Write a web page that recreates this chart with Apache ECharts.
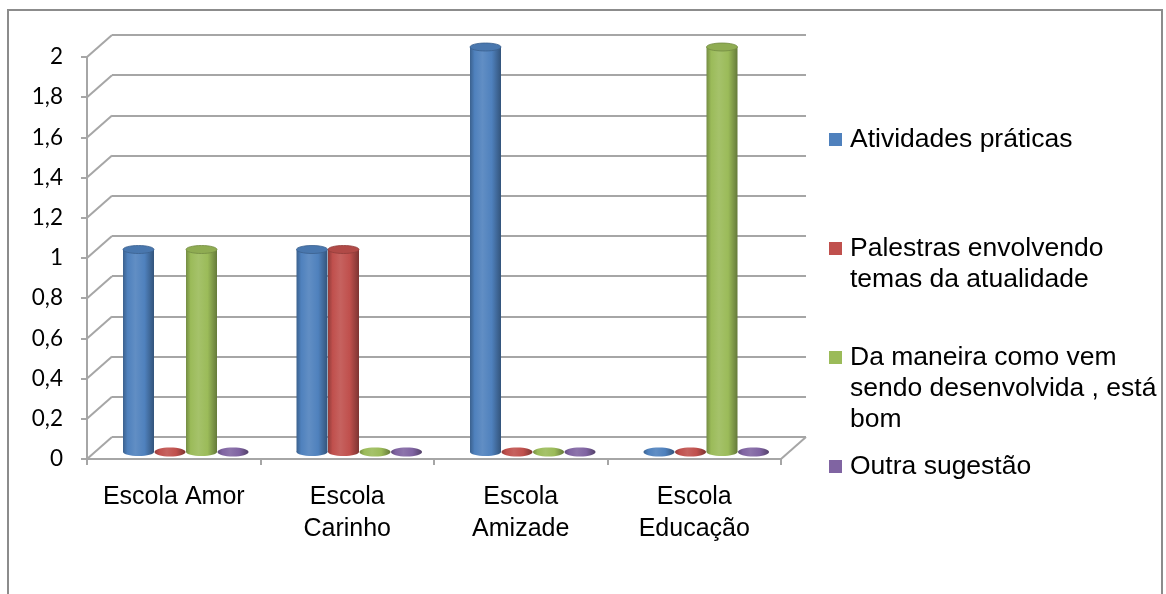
<!DOCTYPE html>
<html>
<head>
<meta charset="utf-8">
<title>Sugestões por escola</title>
<script src="https://cdn.jsdelivr.net/npm/echarts@6.0.0/dist/echarts.min.js"></script>
<style>
  html, body { margin: 0; padding: 0; background: #fff; }
  #chart { width: 1166px; height: 594px; }
</style>
</head>
<body>
<div id="chart"></div>
<script>
// --- Data ---

const schools = ['Escola Amor', 'Escola Carinho', 'Escola Amizade', 'Escola Educação'];
const xTickLabels = ['Escola Amor', 'Escola\nCarinho', 'Escola\nAmizade', 'Escola\nEducação'];

const seriesNames = [
    'Atividades práticas',
    'Palestras envolvendo temas da atualidade',
    'Da maneira como vem sendo desenvolvida , está bom',
    'Outra sugestão'
];
const legendLabels = [
    'Atividades práticas',
    'Palestras envolvendo\ntemas da atualidade',
    'Da maneira como vem\nsendo desenvolvida , está\nbom',
    'Outra sugestão'
];

const atividades = [1, 1, 2, 0];
const palestras = [0, 1, 0, 0];
const daManeira = [1, 0, 0, 2];
const outra = [0, 0, 0, 0];

const yTicks = [0, 0.2, 0.4, 0.6, 0.8, 1, 1.2, 1.4, 1.6, 1.8, 2];

// --- Style ---

const seriesColors = ['#4F81BD', '#C0504D', '#9BBB59', '#8064A2'];
const GRID_LINE = '#a6a6a6';
const FONT = "'Liberation Sans', Arial, sans-serif";
const DEPTH_X = 25;
const DEPTH_Y = -22;
const BAR_STEP = 31.5;
const BAR_W = 31;
const CAP_RY = 4;
const LINE_H = 31;
const legendTops = [124, 233, 342, 451];

// --- Helpers ---

// k > 0 mixes toward white, k < 0 toward black
const shade = (c, k) => {
    const rgb = echarts.color.parse(c);
    const t = k > 0 ? 255 : 0;
    const a = Math.abs(k);
    const out = rgb.slice(0, 3).map(v => Math.round(v + (t - v) * a));
    return 'rgb(' + out.join(',') + ')';
};

const bodyFill = (c) => ({
    type: 'linear', x: 0, y: 0, x2: 1, y2: 0,
    colorStops: [
        { offset: 0, color: shade(c, -0.25) },
        { offset: 0.15, color: c },
        { offset: 0.4, color: shade(c, 0.1) },
        { offset: 0.7, color: c },
        { offset: 1, color: shade(c, -0.35) }
    ]
});

const cylinder = (si) => (params, api) => {
    const cat = api.value(0);
    const v = api.value(1);
    const color = seriesColors[si];
    const base = api.coord([cat, 0]);
    const top = api.coord([cat, v]);
    const cx = base[0] + (si - 1.5) * BAR_STEP;
    const r = BAR_W / 2;
    if (!v) {
        return {
            type: 'ellipse',
            shape: { cx: cx, cy: base[1], rx: r, ry: CAP_RY + 0.5 },
            style: { fill: bodyFill(color) }
        };
    }
    return {
        type: 'group',
        children: [
            { type: 'ellipse', shape: { cx: cx, cy: base[1], rx: r, ry: CAP_RY }, style: { fill: bodyFill(color) } },
            { type: 'rect', shape: { x: cx - r, y: top[1], width: BAR_W, height: base[1] - top[1] }, style: { fill: bodyFill(color) } },
            { type: 'ellipse', shape: { cx: cx, cy: top[1], rx: r, ry: CAP_RY }, style: { fill: shade(color, -0.08), stroke: shade(color, -0.25), lineWidth: 0.8 } }
        ]
    };
};

// legend icon: square aligned with the first text line
const legendIcon = (lines) => {
    const h = lines * LINE_H;
    return 'path://M0,0L16,0M0,9H13V22H0ZM0,' + h + 'L16,' + h;
};

// --- Chart ---

const chart = echarts.init(document.getElementById('chart'), null, { renderer: 'canvas' });

const valueSeries = [atividades, palestras, daManeira, outra];

const option = {
    animation: false,
    backgroundColor: '#fff',
    graphic: [{
        type: 'rect',
        shape: { x: 8, y: 10, width: 1154, height: 700 },
        style: { fill: null, stroke: '#8c8c8c', lineWidth: 2 },
        silent: true
    }],
    legend: legendLabels.map((lab, i) => {
        const lines = lab.split('\n').length;
        return {
            data: [seriesNames[i]],
            left: 829,
            top: legendTops[i],
            orient: 'vertical',
            padding: 0,
            itemWidth: 16,
            itemHeight: lines * LINE_H,
            icon: legendIcon(lines),
            selectedMode: false,
            formatter: () => lab,
            textStyle: { fontFamily: FONT, fontSize: 26.5, lineHeight: LINE_H, color: '#000' }
        };
    }),
    grid: [
        // front plane: axes and labels
        { left: 87, top: 57, width: 694, height: 402 },
        // back wall: grid lines
        { left: 87 + DEPTH_X, top: 57 + DEPTH_Y, width: 694, height: 402 },
        // middle depth: cylinders
        { left: 99, top: 47, width: 694, height: 405 }
    ],
    xAxis: [
        {
            gridIndex: 0, type: 'category', data: xTickLabels,
            axisLine: { lineStyle: { color: GRID_LINE, width: 2 } },
            axisTick: { show: true, length: 6, interval: 0, lineStyle: { color: GRID_LINE, width: 2 } },
            axisLabel: { interval: 0, margin: 22, fontFamily: FONT, fontSize: 25, lineHeight: 32, color: '#000' },
            splitLine: { show: false }
        },
        { gridIndex: 1, type: 'category', data: schools, show: false },
        { gridIndex: 2, type: 'category', data: schools, show: false }
    ],
    yAxis: [
        {
            gridIndex: 0, type: 'value', min: 0, max: 2, interval: 0.2,
            axisLine: { show: true, lineStyle: { color: GRID_LINE, width: 2 } },
            axisTick: { show: true, length: 6, lineStyle: { color: GRID_LINE, width: 2 } },
            axisLabel: {
                margin: 24, fontFamily: 'Lato, ' + FONT, fontSize: 22.5, color: '#000',
                formatter: (v) => String(+v.toFixed(1)).replace('.', ',')
            },
            splitLine: { show: false }
        },
        {
            gridIndex: 1, type: 'value', min: 0, max: 2, interval: 0.2,
            axisLine: { show: false }, axisTick: { show: false }, axisLabel: { show: false },
            splitLine: { show: true, lineStyle: { color: GRID_LINE, width: 2 } }
        },
        { gridIndex: 2, type: 'value', min: 0, max: 2, show: false }
    ],
    series: [
        {
            // side wall and floor edges joining front plane to back wall
            type: 'custom',
            xAxisIndex: 0, yAxisIndex: 0,
            silent: true,
            z: 1,
            data: yTicks.map(v => [0, v]),
            renderItem: (params, api) => {
                const v = api.value(1);
                const y = api.coord([0, v])[1];
                const x0 = params.coordSys.x;
                const lines = [{
                    type: 'line',
                    shape: { x1: x0, y1: y, x2: x0 + DEPTH_X, y2: y + DEPTH_Y },
                    style: { stroke: GRID_LINE, lineWidth: 2 }
                }];
                if (v === 0) {
                    const x1 = x0 + params.coordSys.width;
                    lines.push({
                        type: 'line',
                        shape: { x1: x1, y1: y, x2: x1 + DEPTH_X, y2: y + DEPTH_Y },
                        style: { stroke: GRID_LINE, lineWidth: 2 }
                    });
                }
                return { type: 'group', children: lines };
            }
        },
        ...valueSeries.map((vals, si) => ({
            name: seriesNames[si],
            type: 'custom',
            xAxisIndex: 2, yAxisIndex: 2,
            z: 3,
            itemStyle: { color: seriesColors[si] },
            encode: { x: 0, y: 1 },
            data: vals.map((v, i) => [i, v]),
            renderItem: cylinder(si)
        }))
    ]
};

chart.setOption(option);
</script>
</body>
</html>
